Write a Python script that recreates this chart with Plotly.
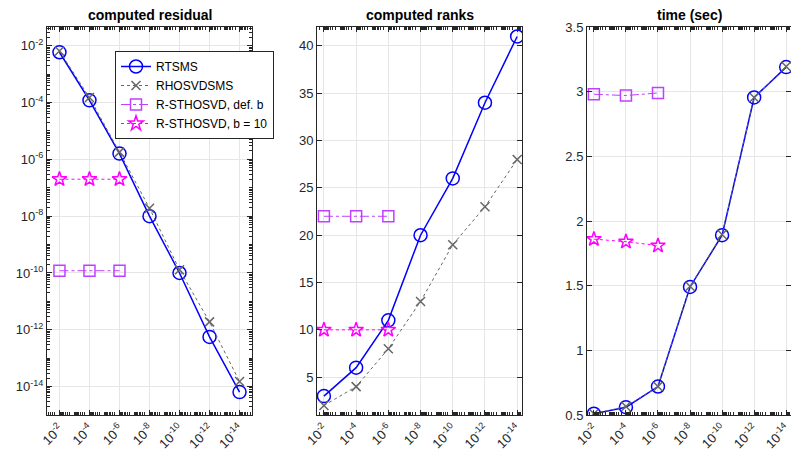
import plotly.graph_objects as go

tol = [1e-2, 1e-4, 1e-6, 1e-8, 1e-10, 1e-12, 1e-14]
tol_short = tol[:3]
tick_text = ["10<sup>-%d</sup>" % k for k in [2, 4, 6, 8, 10, 12, 14]]

res_rtsms = [5.9e-3, 1.2e-4, 1.6e-6, 1.0e-8, 1.0e-10, 5.6e-13, 6.4e-15]
res_rhosvd = [6.5e-3, 1.5e-4, 1.8e-6, 1.9e-8, 1.3e-10, 1.9e-12, 1.5e-14]
res_defb = [1.2e-10, 1.2e-10, 1.2e-10]
res_b10 = [2.0e-7, 2.0e-7, 2.0e-7]

rank_rtsms = [3, 6, 11, 20, 26, 34, 41]
rank_rhosvd = [2, 4, 8, 13, 19, 23, 28]
rank_defb = [22, 22, 22]
rank_b10 = [10, 10, 10]

time_rtsms = [0.51, 0.56, 0.72, 1.49, 1.89, 2.955, 3.19]
time_rhosvd = [0.51, 0.565, 0.72, 1.495, 1.895, 2.955, 3.195]
time_defb = [2.98, 2.97, 2.99]
time_b10 = [1.86, 1.84, 1.81]

names = ["RTSMS", "RHOSVDSMS", "R-STHOSVD, def. b", "R-STHOSVD, b = 10"]
titles = ["computed residual", "computed ranks", "time (sec)"]

BLUE = "#0000FF"
GRAY = "#666666"
PURPLE = "#BF40FF"
MAGENTA = "#FF00FF"
AX = "#262626"
FONT = "Liberation Sans, Arial, sans-serif"

styles = [
    dict(line=dict(color=BLUE, width=1.5, dash="solid"),
         marker=dict(symbol="circle-open", size=13, color=BLUE, line=dict(width=1.5, color=BLUE))),
    dict(line=dict(color=GRAY, width=1, dash="dot"),
         marker=dict(symbol="x-thin-open", size=9, color=GRAY, line=dict(width=1.5, color=GRAY))),
    dict(line=dict(color=PURPLE, width=1, dash="dashdot"),
         marker=dict(symbol="square-open", size=11, color=PURPLE, line=dict(width=1.5, color=PURPLE))),
    dict(line=dict(color=MAGENTA, width=1, dash="dot"),
         marker=dict(symbol="star-open", size=11, color=MAGENTA, line=dict(width=1.5, color=MAGENTA))),
]

panels = [
    [res_rtsms, res_rhosvd, res_defb, res_b10],
    [rank_rtsms, rank_rhosvd, rank_defb, rank_b10],
    [time_rtsms, time_rhosvd, time_defb, time_b10],
]

fig = go.Figure()
for p, data in enumerate(panels):
    sfx = "" if p == 0 else str(p + 1)
    for i, ys in enumerate(data):
        xs = tol if len(ys) == 7 else tol_short
        fig.add_trace(go.Scatter(
            x=xs, y=ys, mode="lines+markers", name=names[i],
            showlegend=(p == 0), xaxis="x" + sfx, yaxis="y" + sfx,
            line=styles[i]["line"], marker=styles[i]["marker"],
        ))

W, H = 791, 455
xdoms = [(47, 252), (317, 522), (587, 791)]
xranges = [(-1.17, -14.83), (-1.57, -14.3), (-1.57, -14.3)]
top, bot = 27, 415
ydom = [1 - bot / H, 1 - top / H]
yrange1 = [-15.0, -1.34]

common = dict(
    showline=True, linecolor=AX, linewidth=1, mirror="allticks",
    ticks="inside", ticklen=5, tickcolor=AX, automargin=False,
    showgrid=True, gridcolor="#E6E6E6", gridwidth=1, ticklabeloverflow="allow",
    zeroline=False, tickfont=dict(family=FONT, size=13, color=AX),
)
minor = dict(ticks="inside", ticklen=3, tickcolor=AX, showgrid=False, dtick="D1")

layout = dict(
    template="none",
    width=W, height=H, margin=dict(l=0, r=0, t=0, b=0, autoexpand=False),
    plot_bgcolor="white", paper_bgcolor="white",
    showlegend=True,
    legend=dict(x=115 / W, y=1 - 51 / H, xanchor="left", yanchor="top",
                bgcolor="white", bordercolor=AX, borderwidth=1,
                font=dict(family=FONT, size=12, color="black"),
                tracegroupgap=0, itemwidth=30),
)

for p in range(3):
    sfx = "" if p == 0 else str(p + 1)
    xa = dict(common)
    xa.update(
        type="log", domain=[xdoms[p][0] / W, xdoms[p][1] / W],
        range=list(xranges[p]), anchor="y" + sfx,
        tickmode="array", tickvals=tol, ticktext=tick_text, tickangle=-45,
        minor=minor,
    )
    ya = dict(common)
    ya.update(domain=ydom, anchor="x" + sfx)
    if p == 0:
        ya.update(type="log", range=yrange1,
                  tickmode="array",
                  tickvals=[1e-2, 1e-4, 1e-6, 1e-8, 1e-10, 1e-12, 1e-14],
                  ticktext=tick_text, minor=minor)
    elif p == 1:
        ya.update(range=[1, 42], tickmode="array", tickvals=[5, 10, 15, 20, 25, 30, 35, 40])
    else:
        ya.update(range=[0.5, 3.5], tickvals=[0.5, 1, 1.5, 2, 2.5, 3, 3.5],
                  ticktext=["0.5", "1", "1.5", "2", "2.5", "3", "3.5"], tickmode="array")
    layout["xaxis" + sfx] = xa
    layout["yaxis" + sfx] = ya

    # top-side tick-only axis (MATLAB box ticks incl. minor ticks)
    layout["xaxis%d" % (p + 4)] = dict(
        type="log", overlaying="x" + sfx, side="top", range=list(xranges[p]),
        anchor="y" + sfx, showgrid=False, showline=False, showticklabels=False,
        zeroline=False, automargin=False,
        tickmode="array", tickvals=tol, ticks="inside", ticklen=5, tickcolor=AX,
        minor=dict(ticks="inside", ticklen=3, tickcolor=AX, showgrid=False, dtick="D1"),
    )

# right-side tick-only log axis for panel 1
layout["yaxis4"] = dict(
    type="log", overlaying="y", side="right", range=yrange1, anchor="x",
    showgrid=False, showline=False, showticklabels=False, zeroline=False, automargin=False,
    tickmode="array", tickvals=[1e-2, 1e-4, 1e-6, 1e-8, 1e-10, 1e-12, 1e-14],
    ticks="inside", ticklen=5, tickcolor=AX,
    minor=dict(ticks="inside", ticklen=3, tickcolor=AX, showgrid=False, dtick="D1"),
)

annots = []
for p in range(3):
    cx = (xdoms[p][0] + xdoms[p][1]) / 2 / W
    annots.append(dict(text="<b>%s</b>" % titles[p], x=cx, y=1 - 15 / H,
                       xref="paper", yref="paper", showarrow=False,
                       xanchor="center", yanchor="middle",
                       font=dict(family=FONT, size=14, color="black")))
layout["annotations"] = annots

fig.update_layout(**layout)
fig.write_html("out.html", config={"displayModeBar": False},
               post_script="document.body.style.margin='0px';document.body.style.overflow='hidden';")
